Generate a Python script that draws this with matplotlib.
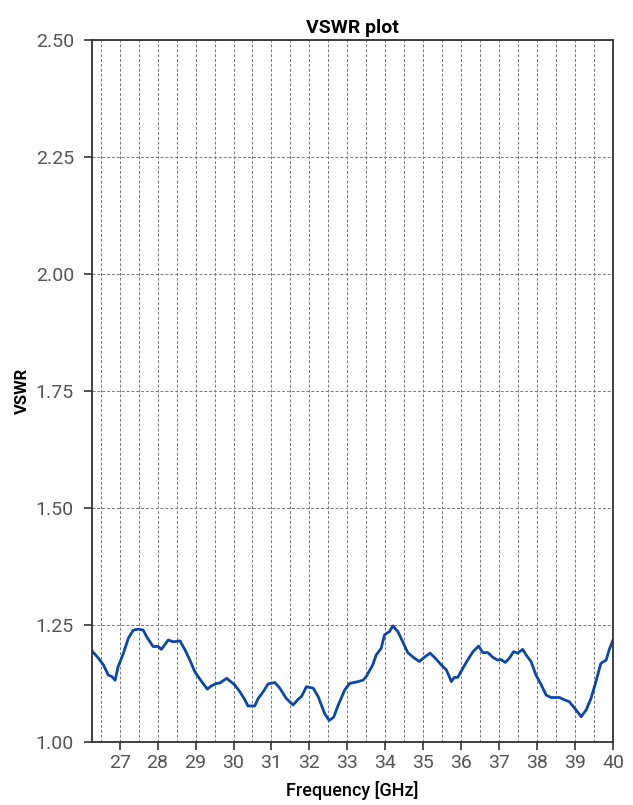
import matplotlib.pyplot as plt
from matplotlib.ticker import MultipleLocator

plt.rcParams['font.family'] = ['Roboto', 'DejaVu Sans']

# VSWR
freq = [26.27, 26.29, 26.44, 26.57, 26.70, 26.79, 26.88, 26.96, 27.10, 27.23, 27.36,
        27.49, 27.62, 27.71, 27.88, 28.02, 28.10, 28.28, 28.41, 28.59, 28.72, 28.85,
        28.98, 29.16, 29.31, 29.42, 29.55, 29.64, 29.82, 30.03, 30.17, 30.30, 30.38,
        30.56, 30.65, 30.78, 30.91, 31.09, 31.22, 31.39, 31.57, 31.70, 31.79, 31.92,
        32.10, 32.23, 32.40, 32.52, 32.64, 32.75, 32.93, 33.06, 33.28, 33.41, 33.50,
        33.67, 33.76, 33.89, 33.98, 34.11, 34.20, 34.33, 34.46, 34.59, 34.77, 34.90,
        35.03, 35.18, 35.34, 35.47, 35.61, 35.74, 35.82, 35.91, 36.04, 36.17, 36.31,
        36.46, 36.57, 36.70, 36.83, 36.96, 37.05, 37.16, 37.27, 37.38, 37.49, 37.62,
        37.71, 37.84, 37.97, 38.11, 38.24, 38.37, 38.59, 38.72, 38.85, 39.03, 39.16,
        39.29, 39.42, 39.55, 39.68, 39.82, 39.90, 40.00]
vswr = [1.195, 1.193, 1.179, 1.165, 1.143, 1.140, 1.132, 1.161, 1.190, 1.222, 1.239,
        1.241, 1.239, 1.225, 1.204, 1.204, 1.198, 1.218, 1.214, 1.216, 1.197, 1.175,
        1.150, 1.129, 1.113, 1.120, 1.125, 1.126, 1.136, 1.122, 1.107, 1.090, 1.077,
        1.077, 1.093, 1.107, 1.124, 1.127, 1.115, 1.093, 1.079, 1.091, 1.097, 1.118,
        1.115, 1.097, 1.061, 1.046, 1.053, 1.077, 1.111, 1.125, 1.129, 1.132, 1.140,
        1.165, 1.186, 1.200, 1.229, 1.236, 1.248, 1.236, 1.214, 1.191, 1.179, 1.172,
        1.181, 1.190, 1.177, 1.165, 1.154, 1.129, 1.138, 1.138, 1.157, 1.175, 1.193,
        1.205, 1.191, 1.191, 1.181, 1.175, 1.176, 1.170, 1.179, 1.193, 1.190, 1.198,
        1.186, 1.172, 1.143, 1.122, 1.100, 1.095, 1.095, 1.090, 1.086, 1.068, 1.054,
        1.068, 1.093, 1.129, 1.168, 1.175, 1.197, 1.218]

fig = plt.figure(figsize=(6.33, 8.05), dpi=100)
ax = fig.add_axes([0.1453, 0.0783, 0.8231, 0.872])

ax.plot(freq, vswr, color='#0a47a8', linewidth=2)

ax.set_xlim(26.27, 40)
ax.set_ylim(1.0, 2.5)
ax.xaxis.set_major_locator(MultipleLocator(1))
ax.xaxis.set_minor_locator(MultipleLocator(0.5))
ax.yaxis.set_major_locator(MultipleLocator(0.25))
ax.yaxis.set_major_formatter('{x:.2f}')

ax.grid(which='both', axis='x', linestyle=(0, (3, 2)), color='#777777', linewidth=0.7)
ax.grid(which='major', axis='y', linestyle=(0, (3, 2)), color='#777777', linewidth=0.7)
ax.tick_params(which='major', direction='out', length=6, width=1.2, color='#333333',
               labelsize=14, labelcolor='#555555')
ax.tick_params(axis='y', pad=7)
ax.tick_params(axis='x', pad=3)
ax.tick_params(which='minor', length=0)
for s in ax.spines.values():
    s.set_color('#333333')
    s.set_linewidth(1.3)

ax.set_title('VSWR plot', fontsize=14, fontweight='bold', pad=5)
ax.set_xlabel('Frequency [GHz]', fontsize=13, fontweight='medium', labelpad=6)
ax.set_ylabel('VSWR', fontsize=12, fontweight='bold', labelpad=4)

fig.savefig('out.png', dpi=100)
